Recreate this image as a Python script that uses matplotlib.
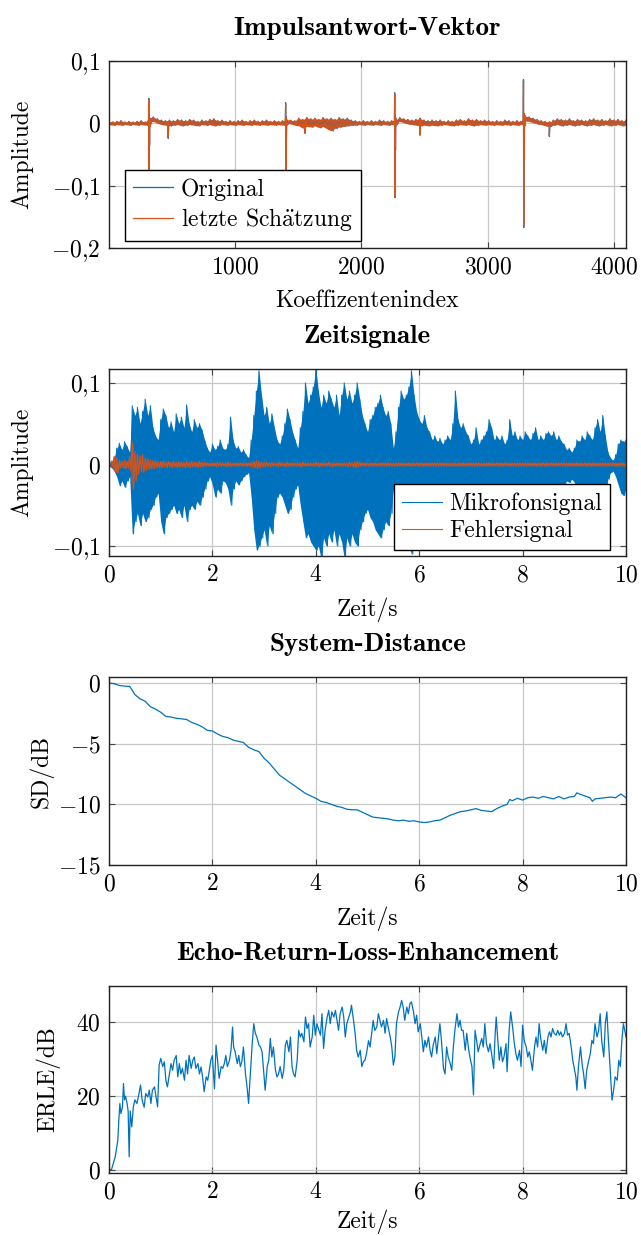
import numpy as np
import matplotlib
matplotlib.use('Agg')
import matplotlib.pyplot as plt
from matplotlib.ticker import FixedLocator, FuncFormatter

plt.rcParams['mathtext.fontset'] = 'cm'
plt.rcParams['font.family'] = ['cmr10', 'DejaVu Serif']
plt.rcParams['axes.formatter.use_mathtext'] = True

BLUE = '#0072BD'
ORANGE = '#D95319'
GRID = '#c8c8c8'
FS = 17

# ---------------- Impulsantwort-Vektor ----------------
ir_knot_step = 32  # samples between envelope knots
ir_hi = [.003, .002, .003, .004, .002, .003, .002, .003, .004, .002,
         .009, .010, .007, .005, .004, .005, .004, .006, .005, .004,
         .006, .005, .003, .005, .004, .006, .007, .004, .005, .003,
         .004, .003, .004, .005, .003, .004, .005, .003, .004, .005,
         .003, .004, .003, .004, .006, .005, .004, .008, .006, .009,
         .007, .008, .006, .009, .007, .008, .006, .009, .007, .008,
         .005, .004, .003, .004, .003, .004, .003, .005, .004, .003,
         .004, .006, .009, .007, .006, .005, .006, .008, .005, .004,
         .005, .004, .005, .003, .004, .003, .005, .006, .004, .007,
         .005, .006, .004, .005, .004, .003, .004, .003, .005, .004,
         .003, .004, .003, .012, .010, .008, .006, .004, .003, .002,
         .005, .007, .006, .005, .007, .004, .006, .005, .004, .006,
         .007, .005, .006, .004, .007, .005, .006, .004, .005]
ir_lo = [-.002, -.003, -.002, -.003, -.002, -.003, -.002, -.003, -.002, -.003,
         .002, .003, .000, -.002, -.003, -.004, -.003, -.002, -.004, -.003,
         -.002, -.003, -.004, -.002, -.003, -.002, -.004, -.003, -.002, -.003,
         -.002, -.003, -.002, -.003, -.002, -.003, -.002, -.003, -.002, -.003,
         -.002, -.003, -.002, -.003, .000, -.001, -.003, -.004, -.008, -.005,
         -.006, -.004, -.007, -.005, -.009, -.012, -.008, -.006, -.005, -.004,
         -.003, -.003, -.002, -.003, -.002, -.003, -.002, -.003, -.002, -.003,
         -.002, .000, .003, .001, -.001, -.002, -.003, -.004, -.003, -.004,
         -.003, -.004, -.003, -.002, -.003, -.004, -.003, -.002, -.003, -.002,
         -.004, -.003, -.002, -.003, -.002, -.003, -.002, -.003, -.002, -.003,
         -.002, -.003, -.002, .004, .003, .001, -.001, -.002, -.004, -.005,
         -.003, -.002, -.004, -.003, -.002, -.004, -.003, -.002, -.004, -.003,
         -.002, -.004, -.003, -.002, -.004, -.003, -.002, -.004, -.003]
ir_spike_idx = [314, 316, 318, 320, 322, 324, 326,
                466, 470, 474,
                1398, 1400, 1402, 1404, 1406, 1408, 1410,
                1550, 1553, 1556,
                2262, 2264, 2266, 2268, 2270, 2272, 2274,
                2460, 2464, 2468,
                3282, 3284, 3286, 3288, 3290, 3292, 3294,
                3485, 3489, 3493]
ir_spike_est = [0.0, 0.038, -0.125, 0.012, -0.034, 0.008, -0.005,
                0.0, -0.023, 0.002,
                0.0, 0.031, -0.110, 0.010, -0.025, 0.006, -0.003,
                0.0, -0.015, 0.003,
                0.0, 0.047, -0.117, 0.012, -0.042, 0.008, -0.004,
                0.0, -0.018, 0.003,
                0.0, 0.068, -0.165, 0.015, -0.055, 0.012, -0.004,
                0.0, -0.020, 0.002]
ir_spike_orig = [0.0, 0.040, -0.128, 0.013, -0.036, 0.009, -0.005,
                 0.0, -0.024, 0.002,
                 0.0, 0.033, -0.112, 0.011, -0.027, 0.006, -0.003,
                 0.0, -0.016, 0.003,
                 0.0, 0.049, -0.119, 0.013, -0.044, 0.009, -0.004,
                 0.0, -0.019, 0.003,
                 0.0, 0.070, -0.167, 0.016, -0.057, 0.013, -0.004,
                 0.0, -0.021, 0.002]

# ---------------- Zeitsignale (envelope knots every 0.05 s) ----------------
sig_step = 0.05
mic_hi = [.002, .004, .008, .020, .026, .018, .028, .022, .015, .072,
          .060, .070, .050, .065, .080, .060, .072, .045, .035, .030,
          .055, .068, .060, .045, .052, .040, .062, .050, .058, .045,
          .073, .050, .040, .055, .045, .050, .042, .030, .020, .015,
          .025, .018, .022, .030, .020, .018, .025, .058, .030, .020,
          .022, .015, .018, .012, .008, .030, .060, .090, .115, .085,
          .060, .070, .050, .062, .045, .030, .025, .035, .050, .068,
          .055, .040, .030, .020, .045, .065, .100, .075, .085, .095,
          .118, .090, .070, .085, .075, .090, .080, .070, .085, .060,
          .085, .100, .080, .090, .075, .085, .100, .080, .060, .050,
          .040, .055, .060, .070, .075, .085, .070, .060, .065, .050,
          .020, .040, .070, .090, .080, .085, .095, .115, .085, .065,
          .055, .050, .060, .045, .040, .030, .035, .028, .032, .025,
          .030, .035, .030, .050, .090, .055, .045, .050, .040, .035,
          .025, .030, .045, .025, .030, .035, .040, .055, .045, .030,
          .035, .030, .035, .025, .030, .055, .035, .040, .030, .035,
          .030, .040, .035, .030, .038, .045, .030, .035, .030, .038,
          .040, .035, .040, .030, .035, .028, .025, .018, .020, .015,
          .020, .030, .028, .035, .030, .040, .035, .030, .045, .055,
          .040, .060, .035, .015, .008, .005, .012, .025, .030, .028,
          .030]
mic_lo = [-.002, -.004, -.008, -.015, -.026, -.020, -.028, -.020, -.015, -.085,
          -.070, -.060, -.075, -.060, -.070, -.065, -.055, -.050, -.040, -.035,
          -.070, -.085, -.065, -.060, -.055, -.050, -.060, -.055, -.065, -.050,
          -.070, -.055, -.050, -.055, -.045, -.050, -.040, -.030, -.020, -.015,
          -.025, -.040, -.030, -.035, -.020, -.022, -.030, -.050, -.030, -.020,
          -.025, -.020, -.015, -.012, -.010, -.040, -.080, -.105, -.100, -.090,
          -.080, -.100, -.075, -.085, -.060, -.040, -.035, -.040, -.050, -.060,
          -.055, -.040, -.030, -.025, -.050, -.070, -.090, -.085, -.095, -.100,
          -.105, -.100, -.115, -.090, -.100, -.085, -.095, -.080, -.100, -.085,
          -.095, -.115, -.090, -.100, -.085, -.095, -.100, -.080, -.070, -.060,
          -.055, -.065, -.070, -.080, -.085, -.090, -.080, -.070, -.075, -.060,
          -.030, -.050, -.080, -.090, -.085, -.095, -.100, -.110, -.090, -.070,
          -.060, -.055, -.060, -.050, -.045, -.040, -.045, -.035, -.040, -.030,
          -.035, -.040, -.035, -.045, -.060, -.050, -.045, -.050, -.040, -.035,
          -.030, -.035, -.045, -.030, -.035, -.040, -.045, -.050, -.045, -.035,
          -.040, -.035, -.040, -.030, -.035, -.050, -.040, -.045, -.035, -.040,
          -.035, -.045, -.040, -.035, -.040, -.045, -.035, -.040, -.035, -.040,
          -.045, -.040, -.045, -.035, -.040, -.030, -.028, -.020, -.022, -.018,
          -.022, -.030, -.030, -.035, -.030, -.040, -.035, -.030, -.040, -.045,
          -.040, -.045, -.035, -.018, -.010, -.008, -.015, -.025, -.035, -.038,
          -.030]
err_hi = [.000, .004, .010, .008, .005, .004, .005, .004, .010, .028,
          .016, .012, .010, .012, .008, .007, .006, .005, .004, .004,
          .004, .004, .003, .004, .003, .004, .003, .004, .003, .003,
          .004, .003, .004, .003, .003, .004, .003, .003, .002, .002,
          .002, .002, .003, .002, .002, .002, .003, .002, .002, .002,
          .002, .002, .002, .002, .002, .003, .004, .005, .004, .003,
          .003, .003, .002, .003, .002, .002, .003, .002, .002, .003,
          .002, .002, .002, .002, .002, .003, .002, .002, .002, .002,
          .003, .002, .002, .002, .002, .003, .002, .002, .002, .002,
          .002, .002, .002, .003, .002, .003, .004, .003, .002, .002,
          .002, .002, .002, .002, .002, .002, .002, .002, .002, .002,
          .002, .002, .002, .002, .002, .002, .002, .002, .002, .002,
          .002, .002, .002, .002, .002, .002, .002, .002, .002, .002,
          .002, .002, .002, .002, .002, .002, .002, .002, .002, .002,
          .002, .002, .002, .002, .002, .002, .002, .002, .002, .002,
          .002, .002, .002, .002, .002, .002, .002, .002, .002, .002,
          .002, .002, .002, .002, .002, .002, .002, .002, .002, .002,
          .002, .002, .002, .002, .002, .002, .002, .002, .002, .002,
          .002, .002, .002, .002, .002, .002, .002, .002, .002, .002,
          .002, .002, .002, .002, .002, .002, .002, .002, .002, .002,
          .002]
err_lo = [.000, -.003, -.008, -.010, -.004, -.004, -.005, -.004, -.008, -.030,
          -.020, -.012, -.008, -.010, -.007, -.006, -.005, -.005, -.004, -.004,
          -.004, -.003, -.004, -.003, -.004, -.003, -.004, -.003, -.003, -.004,
          -.003, -.004, -.003, -.003, -.004, -.003, -.003, -.002, -.002, -.002,
          -.002, -.003, -.002, -.002, -.002, -.003, -.002, -.002, -.002, -.002,
          -.002, -.002, -.002, -.002, -.002, -.003, -.004, -.005, -.004, -.003,
          -.003, -.002, -.003, -.002, -.002, -.003, -.002, -.002, -.003, -.002,
          -.002, -.002, -.002, -.002, -.003, -.002, -.002, -.002, -.002, -.002,
          -.002, -.003, -.002, -.002, -.002, -.002, -.003, -.002, -.002, -.002,
          -.002, -.002, -.003, -.002, -.003, -.004, -.003, -.002, -.002, -.002,
          -.002, -.002, -.002, -.002, -.002, -.002, -.002, -.002, -.002, -.002,
          -.002, -.002, -.002, -.002, -.002, -.002, -.002, -.002, -.002, -.002,
          -.002, -.002, -.002, -.002, -.002, -.002, -.002, -.002, -.002, -.002,
          -.002, -.002, -.002, -.002, -.002, -.002, -.002, -.002, -.002, -.002,
          -.002, -.002, -.002, -.002, -.002, -.002, -.002, -.002, -.002, -.002,
          -.002, -.002, -.002, -.002, -.002, -.002, -.002, -.002, -.002, -.002,
          -.002, -.002, -.002, -.002, -.002, -.002, -.002, -.002, -.002, -.002,
          -.002, -.002, -.002, -.002, -.002, -.002, -.002, -.002, -.002, -.002,
          -.002, -.002, -.002, -.002, -.002, -.002, -.002, -.002, -.002, -.002,
          -.002, -.002, -.002, -.002, -.002, -.002, -.002, -.002, -.002, -.002,
          -.002]

# ---------------- System-Distance ----------------
sd_t = [0.0, 0.1, 0.2, 0.3, 0.4, 0.45, 0.5, 0.6, 0.7, 0.8, 0.9,
        1.0, 1.1, 1.2, 1.3, 1.4, 1.5, 1.6, 1.7, 1.8, 1.9,
        2.0, 2.1, 2.2, 2.3, 2.4, 2.5, 2.6, 2.7, 2.8, 2.9,
        3.0, 3.1, 3.2, 3.3, 3.4, 3.5, 3.6, 3.7, 3.8, 3.9,
        4.0, 4.1, 4.2, 4.3, 4.4, 4.5, 4.6, 4.7, 4.8, 4.9,
        5.0, 5.1, 5.2, 5.3, 5.4, 5.5, 5.6, 5.7, 5.8, 5.9,
        6.0, 6.1, 6.2, 6.3, 6.4, 6.5, 6.6, 6.7, 6.8, 6.9,
        7.0, 7.1, 7.2, 7.3, 7.4, 7.5, 7.6, 7.7, 7.75, 7.8, 7.9,
        8.0, 8.1, 8.2, 8.3, 8.4, 8.5, 8.6, 8.7, 8.8, 8.9,
        9.0, 9.05, 9.1, 9.2, 9.3, 9.35, 9.4, 9.5, 9.6, 9.7, 9.8, 9.9, 10.0]
sd_db = [0.0, -0.05, -0.2, -0.25, -0.28, -0.6, -0.95, -1.3, -1.5, -1.95, -2.15,
         -2.4, -2.75, -2.8, -2.9, -2.95, -3.0, -3.25, -3.4, -3.6, -3.9,
         -3.95, -4.2, -4.4, -4.5, -4.7, -4.8, -4.9, -5.3, -5.5, -5.65,
         -6.2, -6.6, -7.1, -7.6, -7.9, -8.2, -8.5, -8.8, -9.1, -9.3,
         -9.5, -9.75, -9.85, -10.0, -10.15, -10.25, -10.4, -10.45, -10.45, -10.65,
         -10.85, -11.05, -11.1, -11.15, -11.2, -11.3, -11.35, -11.3, -11.4, -11.35,
         -11.45, -11.5, -11.45, -11.35, -11.3, -11.1, -10.9, -10.75, -10.6, -10.55,
         -10.45, -10.35, -10.5, -10.55, -10.6, -10.35, -10.15, -10.0, -9.6, -9.7, -9.5,
         -9.65, -9.45, -9.4, -9.5, -9.35, -9.45, -9.55, -9.35, -9.55, -9.4,
         -9.35, -9.05, -9.15, -9.3, -9.45, -9.75, -9.55, -9.5, -9.45, -9.4, -9.45, -9.15, -9.45]

# ---------------- ERLE ----------------
erle_t = [0.0, 0.05, 0.12, 0.17, 0.19, 0.21, 0.23, 0.26, 0.28, 0.30, 0.32, 0.35, 0.37, 0.39, 0.41, 0.44, 0.47, 0.50, 0.54, 0.57,
          0.61, 0.64, 0.68, 0.71, 0.75, 0.78, 0.81, 0.84, 0.88, 0.91, 0.94, 0.97, 1.00, 1.04, 1.07, 1.10, 1.13, 1.17, 1.20, 1.23,
          1.26, 1.30, 1.33, 1.36, 1.39, 1.42, 1.46, 1.49, 1.52, 1.55, 1.59, 1.62, 1.65, 1.68, 1.72, 1.75, 1.78, 1.81, 1.84, 1.88,
          1.91, 1.94, 1.97, 2.00, 2.04, 2.07, 2.10, 2.13, 2.17, 2.20, 2.23, 2.26, 2.29, 2.33, 2.36, 2.39, 2.41, 2.44, 2.48, 2.51,
          2.54, 2.57, 2.60, 2.64, 2.67, 2.70, 2.73, 2.77, 2.80, 2.83, 2.86, 2.90, 2.93, 2.96, 2.99, 3.02, 3.06, 3.09, 3.12, 3.15,
          3.18, 3.22, 3.25, 3.28, 3.31, 3.35, 3.38, 3.41, 3.44, 3.48, 3.51, 3.54, 3.57, 3.60, 3.64, 3.67, 3.70, 3.73, 3.77, 3.80,
          3.83, 3.86, 3.89, 3.93, 3.96, 3.99, 4.02, 4.06, 4.09, 4.12, 4.15, 4.18, 4.22, 4.25, 4.28, 4.31, 4.35, 4.38, 4.41, 4.44,
          4.47, 4.51, 4.54, 4.57, 4.60, 4.64, 4.67, 4.69, 4.73, 4.76, 4.79, 4.82, 4.86, 4.89, 4.92, 4.95, 4.98, 5.02, 5.05, 5.08,
          5.11, 5.14, 5.18, 5.21, 5.24, 5.27, 5.31, 5.34, 5.37, 5.40, 5.44, 5.47, 5.50, 5.53, 5.56, 5.60, 5.63, 5.66, 5.69, 5.72,
          5.76, 5.79, 5.82, 5.85, 5.89, 5.92, 5.95, 5.98, 6.02, 6.05, 6.08, 6.11, 6.14, 6.18, 6.21, 6.24, 6.27, 6.31, 6.34, 6.37,
          6.40, 6.43, 6.47, 6.50, 6.53, 6.56, 6.60, 6.63, 6.66, 6.69, 6.73, 6.76, 6.79, 6.82, 6.85, 6.89, 6.92, 6.95, 6.98, 7.02,
          7.05, 7.08, 7.11, 7.14, 7.18, 7.21, 7.24, 7.27, 7.30, 7.34, 7.37, 7.40, 7.44, 7.47, 7.49, 7.52, 7.55, 7.58, 7.61, 7.64,
          7.68, 7.70, 7.74, 7.77, 7.81, 7.84, 7.87, 7.90, 7.94, 7.97, 8.00, 8.03, 8.07, 8.10, 8.13, 8.16, 8.19, 8.23, 8.26, 8.29,
          8.32, 8.35, 8.39, 8.42, 8.45, 8.49, 8.52, 8.55, 8.58, 8.61, 8.65, 8.68, 8.71, 8.74, 8.77, 8.81, 8.84, 8.87, 8.90, 8.94,
          8.97, 9.00, 9.03, 9.05, 9.08, 9.12, 9.15, 9.18, 9.21, 9.24, 9.28, 9.31, 9.34, 9.37, 9.40, 9.44, 9.47, 9.50, 9.53, 9.57,
          9.60, 9.63, 9.66, 9.69, 9.73, 9.76, 9.79, 9.83, 9.86, 9.89, 9.92, 9.95, 10.0]
erle_db = [0.0, 0.2, 3.6, 8.0, 13.5, 18.0, 15.3, 17.0, 23.4, 19.0, 20.0, 18.0, 16.0, 3.6, 16.0, 11.7, 17.0, 19.0, 18.0, 20.0,
           23.0, 19.0, 17.0, 20.7, 19.8, 21.6, 18.0, 21.6, 22.5, 19.8, 17.1, 28.4, 30.2, 28.0, 29.3, 24.3, 22.5, 26.0, 28.8, 27.0,
           29.7, 31.0, 25.2, 28.8, 26.0, 27.5, 24.3, 29.7, 26.0, 31.0, 27.5, 29.7, 30.6, 27.5, 28.8, 26.0, 27.9, 25.2, 21.2, 25.2,
           24.3, 27.0, 29.7, 31.0, 22.0, 33.8, 29.7, 24.8, 28.0, 27.5, 28.8, 31.0, 28.0, 29.7, 32.4, 38.7, 33.3, 32.0, 28.8, 31.0,
           28.0, 29.3, 33.3, 26.0, 22.5, 18.0, 25.2, 34.2, 39.6, 37.0, 36.0, 33.8, 33.3, 32.0, 27.0, 21.6, 28.0, 29.7, 35.6, 30.6,
           33.3, 27.0, 25.2, 26.0, 28.0, 24.8, 27.0, 33.8, 35.1, 32.0, 36.0, 28.0, 26.0, 25.2, 29.7, 37.8, 36.0, 37.0, 34.7, 41.4,
           38.3, 39.6, 33.3, 36.0, 41.9, 36.5, 39.6, 37.8, 36.5, 42.3, 32.9, 37.8, 41.4, 43.2, 39.6, 42.8, 41.4, 43.2, 40.5, 37.8,
           42.3, 44.1, 41.4, 36.0, 39.6, 41.4, 42.8, 44.6, 40.5, 37.0, 32.4, 30.6, 32.4, 28.0, 29.3, 29.7, 31.5, 35.0, 33.3, 37.0,
           40.5, 37.8, 38.7, 42.3, 40.5, 38.7, 40.5, 37.0, 41.0, 38.7, 36.0, 33.3, 28.4, 30.6, 39.6, 42.8, 44.1, 45.9, 44.1, 40.5,
           44.1, 42.3, 45.0, 45.5, 42.8, 39.6, 41.9, 37.4, 39.6, 36.0, 32.0, 35.1, 33.3, 36.0, 32.4, 30.6, 33.8, 36.0, 31.5, 35.6,
           39.6, 35.1, 27.5, 26.0, 33.3, 30.6, 28.8, 27.0, 33.3, 37.8, 42.3, 38.7, 40.5, 37.8, 37.8, 32.4, 37.0, 33.3, 30.6, 28.0,
           20.3, 37.8, 35.1, 32.0, 34.2, 35.6, 33.3, 39.6, 34.2, 32.0, 34.2, 31.5, 27.5, 37.0, 41.4, 35.1, 29.7, 33.3, 29.3, 30.6,
           34.2, 26.6, 37.8, 42.8, 38.3, 34.2, 31.5, 29.7, 32.4, 28.0, 39.2, 35.1, 33.3, 30.6, 32.0, 29.7, 27.0, 33.3, 36.0, 33.3,
           39.6, 35.6, 32.4, 35.1, 31.5, 36.0, 37.4, 36.0, 38.3, 37.0, 36.5, 37.8, 36.5, 37.4, 36.0, 37.0, 39.6, 36.5, 37.0, 33.3,
           29.7, 27.5, 25.2, 21.6, 28.0, 33.3, 28.8, 26.0, 22.0, 27.0, 29.7, 31.5, 35.1, 34.2, 39.6, 36.0, 37.8, 42.3, 35.1, 30.6,
           39.6, 42.8, 35.1, 28.0, 18.9, 21.6, 25.2, 24.3, 29.7, 28.0, 35.1, 39.6, 36.0]

assert len(erle_t) == len(erle_db)
assert len(sd_t) == len(sd_db)


# ---------------- helpers ----------------
def comma_fmt(v, pos):
    s = f'{v:g}'.replace('.', '{,}')
    return f'${s}$'


def envelope_line(knots, hi, lo):
    knots = np.asarray(knots, float)
    half = (knots[1] - knots[0]) / 2.0
    xs = np.column_stack([knots, knots + half]).ravel()
    ys = np.column_stack([hi, lo]).ravel()
    return xs, ys


def style_axes(ax):
    ax.grid(True, color=GRID, linewidth=0.9)
    ax.set_axisbelow(True)
    for sp in ax.spines.values():
        sp.set_color('#222222')
        sp.set_linewidth(1.0)
    ax.tick_params(direction='in', length=4, width=0.8, color='#444444',
                   top=True, right=True, labelsize=FS, pad=6)
    ax.xaxis.set_major_formatter(FuncFormatter(comma_fmt))
    ax.yaxis.set_major_formatter(FuncFormatter(comma_fmt))


W, H = 641, 1236
fig = plt.figure(figsize=(W / 100, H / 100), dpi=100)


def add_ax(top_px, bottom_px):
    return fig.add_axes([109 / W, 1 - bottom_px / H, (626 - 109) / W,
                         (bottom_px - top_px) / H])


title_kw = dict(fontsize=19.5, fontfamily='cmb10', pad=19)
leg_kw = dict(borderaxespad=0, fontsize=FS, frameon=True, fancybox=False,
              framealpha=1, edgecolor='black', handlelength=1.7,
              handletextpad=0.3, labelspacing=0.22, borderpad=0.35)

# ---- Plot 1
ax1 = add_ax(61, 248)
knots = np.arange(len(ir_hi)) * ir_knot_step
bx, by = envelope_line(knots, ir_hi, ir_lo)
x_est = np.concatenate([bx, ir_spike_idx])
y_est = np.concatenate([by, ir_spike_est])
y_org = np.concatenate([by, ir_spike_orig])
order = np.argsort(x_est, kind='stable')
ax1.plot(x_est[order], y_org[order], color=BLUE, lw=0.9, label='Original')
ax1.fill_between(knots, ir_lo, ir_hi, color=ORANGE, lw=0)
ax1.plot(x_est[order], y_est[order], color=ORANGE, lw=0.9,
         label=r'letzte Sch$\ddot{\mathrm{a}}$tzung')
ax1.set_xlim(1, 4096)
ax1.set_ylim(-0.2, 0.1)
ax1.xaxis.set_major_locator(FixedLocator([1000, 2000, 3000, 4000]))
ax1.yaxis.set_major_locator(FixedLocator([-0.2, -0.1, 0, 0.1]))
style_axes(ax1)
ax1.set_title('Impulsantwort-Vektor', **title_kw)
ax1.set_xlabel('Koeffizentenindex', fontsize=FS, labelpad=8)
ax1.set_ylabel('Amplitude', fontsize=FS)
ax1.yaxis.set_label_coords(-0.146, 0.5)
leg = ax1.legend(loc='lower left', bbox_to_anchor=(0.031, 0.037), **leg_kw)
leg.get_frame().set_linewidth(1.0)

# ---- Plot 2
ax2 = add_ax(369, 556)
tk = np.arange(len(mic_hi)) * sig_step
mx, my = envelope_line(tk, mic_hi, mic_lo)
ex, ey = envelope_line(tk, err_hi, err_lo)
ax2.fill_between(tk, mic_lo, mic_hi, color=BLUE, lw=0)
ax2.plot(mx, my, color=BLUE, lw=0.8, label='Mikrofonsignal')
ax2.fill_between(tk, err_lo, err_hi, color=ORANGE, lw=0)
ax2.plot(ex, ey, color=ORANGE, lw=0.8, label='Fehlersignal')
ax2.set_xlim(0, 10)
ax2.set_ylim(-0.1122, 0.1171)
ax2.xaxis.set_major_locator(FixedLocator([0, 2, 4, 6, 8, 10]))
ax2.yaxis.set_major_locator(FixedLocator([-0.1, 0, 0.1]))
style_axes(ax2)
ax2.set_title('Zeitsignale', **title_kw)
ax2.set_xlabel('Zeit/s', fontsize=FS, labelpad=8)
ax2.set_ylabel('Amplitude', fontsize=FS)
ax2.yaxis.set_label_coords(-0.146, 0.5)
leg2 = ax2.legend(loc='lower right', bbox_to_anchor=(0.97, 0.03), **leg_kw)
leg2.get_frame().set_linewidth(1.0)

# ---- Plot 3
ax3 = add_ax(677, 865)
ax3.plot(sd_t, sd_db, color=BLUE, lw=0.9)
ax3.set_xlim(0, 10)
ax3.set_ylim(-15, 0.5)
ax3.xaxis.set_major_locator(FixedLocator([0, 2, 4, 6, 8, 10]))
ax3.yaxis.set_major_locator(FixedLocator([-15, -10, -5, 0]))
style_axes(ax3)
ax3.set_title('System-Distance', **title_kw)
ax3.set_xlabel('Zeit/s', fontsize=FS, labelpad=8)
ax3.set_ylabel('SD/dB', fontsize=FS)
ax3.yaxis.set_label_coords(-0.107, 0.5)

# ---- Plot 4
ax4 = add_ax(986, 1173)
ax4.plot(erle_t, erle_db, color=BLUE, lw=0.9)
ax4.set_xlim(0, 10)
ax4.set_ylim(-0.8, 49.8)
ax4.xaxis.set_major_locator(FixedLocator([0, 2, 4, 6, 8, 10]))
ax4.yaxis.set_major_locator(FixedLocator([0, 20, 40]))
style_axes(ax4)
ax4.set_title('Echo-Return-Loss-Enhancement', **title_kw)
ax4.set_xlabel('Zeit/s', fontsize=FS, labelpad=4)
ax4.set_ylabel('ERLE/dB', fontsize=FS)
ax4.yaxis.set_label_coords(-0.094, 0.5)

fig.savefig('out.png', dpi=100)
